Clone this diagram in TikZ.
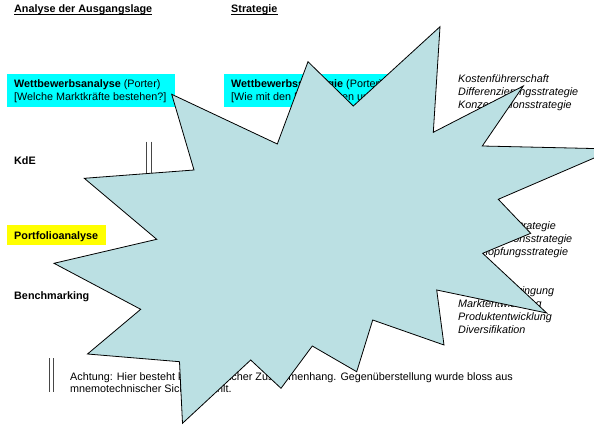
\documentclass[tikz,border=0pt]{standalone}
\usepackage{fontspec}
\setmainfont{Liberation Sans}
\definecolor{starfill}{RGB}{187,224,227}
\definecolor{boxcyan}{RGB}{0,255,255}
\definecolor{boxyellow}{RGB}{255,255,0}
\definecolor{dline}{RGB}{70,70,70}
\tikzset{
  txt/.style={inner sep=0pt, anchor=base west, font=\fontsize{10.8}{12.7}\selectfont},
  btxt/.style={txt, font=\fontsize{10.8}{12.7}\selectfont\bfseries},
  itxt/.style={txt, font=\fontsize{10.8}{12.7}\selectfont\itshape},
  colbox/.style={draw=none, inner sep=0pt, anchor=north west},
  dbl/.style={draw=dline, line width=0.8pt},
  starshape/.style={fill=starfill, draw=black, line width=0.8pt, line join=miter}
}
\begin{document}
\begin{tikzpicture}[x=1pt,y=-1pt]
\useasboundingbox (0,0) rectangle (594,425);
\clip (0,0) rectangle (594,425);
\fill[white] (0,0) rectangle (594,425);

% coloured boxes
\node[colbox, fill=boxcyan, minimum width=168.3pt, minimum height=32.7pt] (cb1) at (6.7,74) {};
\node[colbox, fill=boxcyan, minimum width=196pt, minimum height=32.7pt] (cb2) at (224,74) {};
\node[colbox, fill=boxyellow, minimum width=99.3pt, minimum height=20pt] (yb) at (6.7,225) {};

% headings
\node[btxt] (h1) at (14,13) {Analyse der Ausgangslage};
\draw[line width=0.9pt] ([yshift=-1.5pt]h1.base west) -- ([yshift=-1.5pt]h1.base east);
\node[btxt] (h2) at (231,13) {Strategie};
\draw[line width=0.9pt] ([yshift=-1.5pt]h2.base west) -- ([yshift=-1.5pt]h2.base east);

% left column
\node[txt] (w1a) at (14,87.5) {\textbf{Wettbewerbsanalyse} (Porter)};
\node[txt] (w1b) at (14,100.2) {[Welche Marktkräfte bestehen?]};
\node[btxt] (kde) at (14,164.5) {KdE};
\node[btxt] (pf) at (14,239) {Portfolioanalyse};
\node[btxt] (bm) at (14,299.2) {Benchmarking};

% strategy column
\node[txt] (w2a) at (231,87.5) {\textbf{Wettbewerbsstrategie} (Porter)};
\node[txt] (w2b) at (231,100.2) {[Wie mit den Marktkräften umgehen?]};

% right column
\node[itxt] (r1) at (458,83) {Kostenführerschaft};
\node[itxt] (r2) at (458,96) {Differenzierungsstrategie};
\node[itxt] (r3) at (458,109) {Konzentrationsstrategie};
\node[itxt] (r4) at (458,229.8) {Wachstumsstrategie};
\node[itxt] (r5) at (458,242.8) {Desinvestitionsstrategie};
\node[itxt] (r6) at (458,255.8) {Abschöpfungsstrategie};
\node[itxt] (r7) at (458,294.8) {Marktdurchdringung};
\node[itxt] (r8) at (458,307.6) {Marktentwicklung};
\node[itxt] (r9) at (458,320.4) {Produktentwicklung};
\node[itxt] (r10) at (458,333.2) {Diversifikation};

% note
\node[txt] (n1) at (70,380) {Achtung: Hier besteht kein inhaltlicher Zusammenhang. Gegenüberstellung wurde bloss aus};
\node[txt] (n2) at (70,392) {mnemotechnischer Sicht gewählt.};

% double lines
\coordinate (k1a) at (146.7,141.7); \coordinate (k1b) at (146.7,180);
\coordinate (k2a) at (151.7,141.7); \coordinate (k2b) at (151.7,180);
\draw[dbl] (k1a) -- (k1b);
\draw[dbl] (k2a) -- (k2b);
\coordinate (b1a) at (49,358.3); \coordinate (b1b) at (49,392);
\coordinate (b2a) at (53.5,358.3); \coordinate (b2b) at (53.5,392);
\draw[dbl] (b1a) -- (b1b);
\draw[dbl] (b2a) -- (b2b);

% explosion star
\draw[starshape]
 (171.7,94.3) -- (277.3,144) -- (308,61.7) -- (353.3,106) -- (440,26.7)
 -- (433.3,132.3) -- (523.3,86) -- (482.3,146) -- (615,149) -- (498.3,199.3)
 -- (530.7,233.3) -- (482.7,253.3) -- (546.7,313) -- (436.7,290) -- (444,345)
 -- (372.7,320) -- (356.7,371.7) -- (312.3,346) -- (281,388.3) -- (250.7,360)
 -- (182.5,423.3) -- (179.5,361.7) -- (87.5,354) -- (140.7,309.3) -- (54,263.3)
 -- (156.7,239.3) -- (84.3,178.3) -- (194,170) -- cycle;
\end{tikzpicture}
\end{document}
